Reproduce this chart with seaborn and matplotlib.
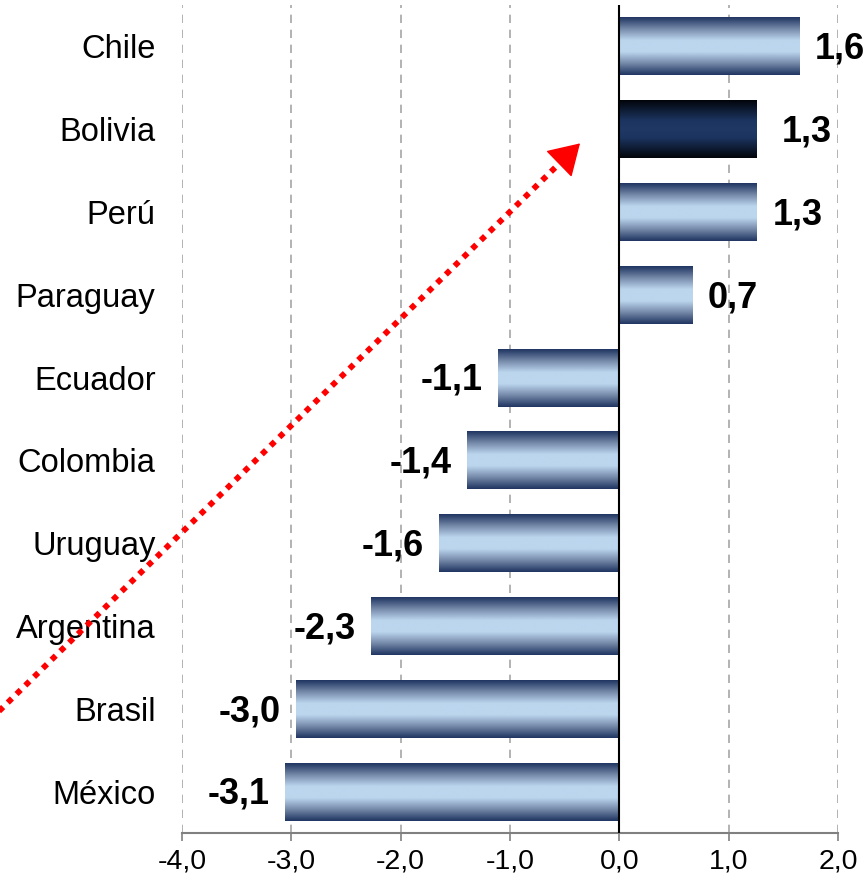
import numpy as np
import matplotlib
matplotlib.use("Agg")
import matplotlib.pyplot as plt
import seaborn as sns
from matplotlib.colors import LinearSegmentedColormap
from matplotlib.lines import Line2D
from matplotlib.ticker import FixedLocator, FuncFormatter

# Data
countries = ["Chile", "Bolivia", "Perú", "Paraguay", "Ecuador",
             "Colombia", "Uruguay", "Argentina", "Brasil", "México"]
values = [1.65, 1.26, 1.26, 0.67, -1.11, -1.39, -1.65, -2.27, -2.96, -3.06]
value_labels = ["1,6", "1,3", "1,3", "0,7", "-1,1",
                "-1,4", "-1,6", "-2,3", "-3,0", "-3,1"]
highlight = "Bolivia"
x_ticks = [-4, -3, -2, -1, 0, 1, 2]

sns.set_style("white")
plt.rcParams["font.family"] = ["Liberation Sans", "DejaVu Sans"]
plt.rcParams["axes.unicode_minus"] = False

# Gradient colour maps (dark edges, light centre)
blue_cmap = LinearSegmentedColormap.from_list(
    "blue_bar",
    [(0.0, "#1f3460"), (0.2, "#7488a8"), (0.4, "#bcd6ee"),
     (0.6, "#bcd6ee"), (0.8, "#7488a8"), (1.0, "#1f3460")])
dark_cmap = LinearSegmentedColormap.from_list(
    "dark_bar",
    [(0.0, "#02050a"), (0.35, "#1c3460"), (0.5, "#1f3864"),
     (0.65, "#1c3460"), (1.0, "#02050a")])

fig = plt.figure(figsize=(8.67, 8.85), dpi=100)
ax = fig.add_axes([0.2099, 0.0588, 0.7567, 0.9356])

sns.barplot(x=values, y=countries, orient="h", width=0.7,
            color="#bcd6ee", ax=ax, zorder=3)

# Replace flat bars with gradient images
grad = np.linspace(0, 1, 256).reshape(-1, 1)
for patch, name in zip(ax.patches, countries):
    x0, w = patch.get_x(), patch.get_width()
    y0, h = patch.get_y(), patch.get_height()
    cmap = dark_cmap if name == highlight else blue_cmap
    ax.imshow(grad, cmap=cmap, aspect="auto", zorder=3,
              extent=[x0, x0 + w, y0 + h, y0], interpolation="bicubic")
    patch.set_visible(False)

ax.set_xlim(-4, 2)
ax.set_ylim(len(countries) - 0.5, -0.5)

# Value labels
for i, (v, lab) in enumerate(zip(values, value_labels)):
    off = 11 if v >= 0 else -11
    if countries[i] == highlight:
        off = 18
    ax.annotate(lab, xy=(v, i), xytext=(off, -2), textcoords="offset points",
                ha="left" if v >= 0 else "right", va="center",
                fontsize=26, fontweight="bold", color="black", zorder=4)

# Grid, spines, ticks
for t in x_ticks:
    if t == 0:
        ax.axvline(0, color="black", lw=1.5, zorder=4)
    else:
        ax.axvline(t, color="#a6a6a6", lw=1.2, ls=(0, (5, 4)), zorder=1)

for side in ["top", "right", "left"]:
    ax.spines[side].set_visible(False)
ax.spines["bottom"].set_color("#808080")
ax.spines["bottom"].set_linewidth(1.5)

ax.xaxis.set_major_locator(FixedLocator(x_ticks))
ax.xaxis.set_major_formatter(FuncFormatter(lambda x, p: f"{x:.1f}".replace(".", ",")))
ax.tick_params(axis="x", length=6, width=1.2, color="#808080",
               direction="out", labelsize=20.5, pad=5, bottom=True,
               labelcolor="black")
ax.tick_params(axis="y", length=0, labelsize=23.5, pad=19, labelcolor="black")
ax.set_xlabel("")
ax.set_ylabel("")

# Red dotted trend arrow across the figure
tail = (-0.01, 0.188)
tip = (0.669, 0.838)
base = (tip[0] - 0.022, tip[1] - 0.021)
fig.add_artist(Line2D([tail[0], base[0]], [tail[1], base[1]],
                      transform=fig.transFigure, color="#ff0000", lw=4.2,
                      linestyle=(0, (1, 1.1)), dash_capstyle="butt", zorder=6))
ax.annotate("", xy=tip, xycoords="figure fraction",
            xytext=base, textcoords="figure fraction",
            arrowprops=dict(arrowstyle="-|>,head_length=0.9,head_width=0.55",
                            color="#ff0000", lw=1, mutation_scale=22,
                            shrinkA=0, shrinkB=0),
            annotation_clip=False, zorder=6)

fig.savefig("out.png", dpi=100)
